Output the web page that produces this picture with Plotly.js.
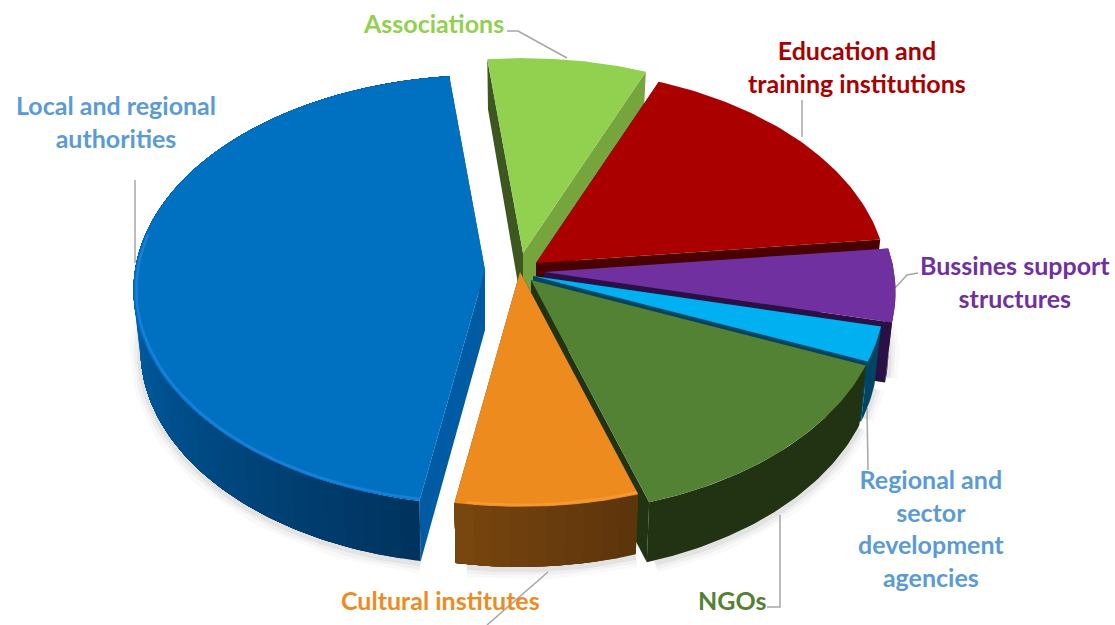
<!DOCTYPE html>
<html>
<head>
<meta charset="utf-8">
<script src="https://cdn.plot.ly/plotly-3.0.1.min.js"></script>
<style>html,body{margin:0;padding:0;background:#fff}#chart{width:1115px;height:625px}</style>
</head>
<body>
<div id="chart"></div>
<script>
// ---- data (clockwise, starting from Associations) ----
const categories = ["Associations", "Education and training institutions", "Bussines support structures",
  "Regional and sector development agencies", "NGOs", "Cultural institutes", "Local and regional authorities"];
const shareValues = [8, 17, 5.5, 2.6, 13.7, 7.7, 45.5];

// ---- styling ----
const topColors = ["#92d050", "#aa0000", "#7030a0", "#00b0f0", "#548235", "#ee8b1f", "#0070c0"];
const wallStops = [null, null, ["#2a1045"], ["#004663"], ["#213312"],
  ["#5b340b", "#6a3d0d", "#7a470f"], ["#00335e", "#0062ab", "#0062ab"]];
const startCutColors = ["#3d5720", "#4a0000", "#2a1045", "#004663", "#213312", "#5b340b", "#005ba5"];
const endCutColors = ["#76a53e", "#4a0000", "#2a1045", "#004663", "#213312", "#5b340b", "#005ba5"];
const apexX = [523, 536, 544, 533, 531, 520, 485];
const apexY = [253, 263, 272, 276, 280, 272, 270];
const rimColors = [null, null, null, null, null, "#f39a32", "#1780da"];
const labelTexts = ["Associations", "Education and<br>training institutions", "Bussines support<br>structures",
  "Regional and<br>sector<br>development<br>agencies", "NGOs", "Cultural institutes", "Local and regional<br>authorities"];
const labelColors = ["#92d050", "#a80000", "#7030a0", "#5b9bd5", "#548235", "#ee8b1f", "#5b9bd5"];
const labelX = [433, 857, 1015, 931, 732, 440, 116];
const labelY = [23, 66.5, 281.5, 527.5, 600, 600, 121];
const leaderX = [[507, 518, 567], [802, 802], [918, 907, 895], [867, 868], [767, 780, 780], [548, 487], [135, 135]];
const leaderY = [[31, 31, 58], [100, 137], [273, 275, 288], [408, 470], [607, 607, 515], [572, 625], [180, 263]];

const startAngle = -6.4, RX = 350, A = 213, B = 0.093;
const rad = d => d * Math.PI / 180;

function pt(i, deg, scale) {
  const s = scale || 1, u = Math.sin(rad(deg)) * s, v = -Math.cos(rad(deg)) * s, den = 1 - B * v;
  return [apexX[i] + RX * u / den, apexY[i] + A * v / den, v];
}
function low(i, p) {
  const d = p[2] < 0 ? 60 + 10 * p[2] : 60;
  return [apexX[i] + (p[0] - apexX[i]) * 0.98, p[1] + d];
}
function hex(c) { return [1, 3, 5].map(k => parseInt(c.substr(k, 2), 16)); }
function mix(stops, f) {
  if (stops.length === 1) return stops[0];
  const t = Math.min(0.9999, f) * (stops.length - 1), k = Math.floor(t), a = hex(stops[k]), b = hex(stops[k + 1]);
  return "rgb(" + a.map((x, j) => Math.round(x + (b[j] - x) * (t - k))).join(",") + ")";
}
function poly(pts, color, name) {
  return { type: "scatter", mode: "lines", x: pts.map(p => p[0]).concat([pts[0][0]]), y: pts.map(p => p[1]).concat([pts[0][1]]),
    fill: "toself", fillcolor: color, line: { color: color, width: 0 }, hoverinfo: name ? "text" : "skip", text: name, showlegend: false };
}
function path(pts, color, width) {
  return { type: "scatter", mode: "lines", x: pts.map(p => p[0]), y: pts.map(p => p[1]),
    line: { color: color, width: width, shape: "linear" }, hoverinfo: "skip", showlegend: false };
}

const total = shareValues.reduce((a, b) => a + b, 0);
let running = startAngle;
const spans = shareValues.map(v => { const s = [running, running + v / total * 360]; running = s[1]; return s; });

const traces = [];
// soft drop shadow below the front walls
[[22, 0.025], [14, 0.035], [7, 0.05]].forEach(([w, op]) => {
  [2, 3, 4, 5, 6].forEach(i => {
    const [a, b] = spans[i], arc = [], last = i === 6 ? 290 : b;
    for (let d = a; d <= last; d += 2) { const q = low(i, pt(i, d)); arc.push([q[0], q[1] + 2]); }
    traces.push(path(arc, "rgba(0,0,0," + op + ")", w));
  });
});
// leader lines
leaderX.forEach((xs, k) => traces.push(path(xs.map((x, j) => [x, leaderY[k][j]]), "#a6a6a6", 1.5)));

// slices, painted from back to front
categories.forEach((name, i) => {
  const [a, b] = spans[i], apex = [apexX[i], apexY[i]], apexLow = [apexX[i], apexY[i] + 60];
  const pa = pt(i, a), pb = pt(i, b);
  traces.push(poly([apex, pa, low(i, pa), apexLow], startCutColors[i]));
  traces.push(poly([apex, pb, low(i, pb), apexLow], endCutColors[i]));
  if (wallStops[i]) {
    // the walls are painted in overlapping bands so no seam shows between them
    const n = wallStops[i].length === 1 ? 1 : Math.ceil((b - a) / 3);
    for (let k = 0; k < n; k++) {
      const d0 = a + (b - a) * k / n, d1 = b, pts = [];
      for (let d = d0; d < d1; d += 1) pts.push(pt(i, d));
      pts.push(pt(i, d1));
      const lower = pts.map(p => low(i, p)).reverse();
      traces.push(poly(pts.concat(lower), mix(wallStops[i], (k + 0.5) / n)));
    }
  }
  const top = [apex];
  for (let k = 0; k <= 60; k++) top.push(pt(i, a + (b - a) * k / 60));
  traces.push(poly(top, topColors[i], name + ": " + shareValues[i] + "%"));
  if (rimColors[i]) {
    const rim = [], endDeg = i === 6 ? 280 : b;
    for (let d = a; d <= endDeg; d += 2) rim.push(pt(i, d, 0.992));
    traces.push(path(rim, rimColors[i], 2.5));
  }
});

const annotations = labelTexts.map((t, i) => ({
  xref: "x", yref: "y", x: labelX[i], y: labelY[i], text: "<b>" + t + "</b>", showarrow: false,
  xanchor: "center", yanchor: "middle", align: "center",
  font: { family: "Lato, 'Open Sans', sans-serif", size: 25, color: labelColors[i] }
}));

Plotly.newPlot("chart", traces, {
  width: 1115, height: 625, margin: { l: 0, r: 0, t: 0, b: 0 }, showlegend: false,
  paper_bgcolor: "#fff", plot_bgcolor: "#fff",
  xaxis: { range: [0, 1115], visible: false, fixedrange: true },
  yaxis: { range: [625, 0], visible: false, fixedrange: true },
  annotations: annotations
}, { displayModeBar: false });
</script>
</body>
</html>
